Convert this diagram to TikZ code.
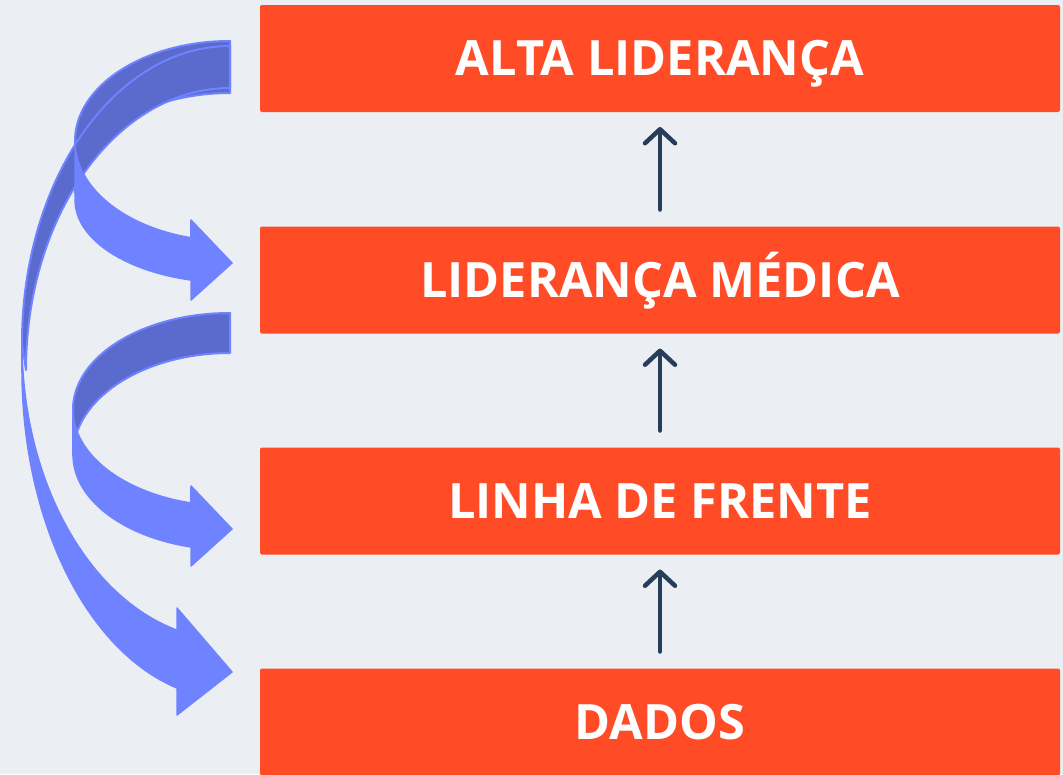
\documentclass[tikz,border=0pt]{standalone}
\usepackage{fontspec}
\setmainfont{Open Sans}
\usepackage{tikz}
\definecolor{bg}{RGB}{235, 239, 243}
\definecolor{cc}{RGB}{255, 75, 38}
\definecolor{ln}{RGB}{38, 61, 92}
\definecolor{bl}{RGB}{111, 130, 255}
\definecolor{bd}{RGB}{90, 107, 205}
\usetikzlibrary{arrows.meta}

\begin{document}
\begin{tikzpicture}[
box/.style={rectangle, minimum width=800pt, minimum height=107pt, fill=cc, rounded corners=2pt, outer sep=0pt, text=white, text height=34.8pt, text depth=0pt, font=\fontsize{48.7}{52}\selectfont\bfseries},
up/.style={line width=4.5pt, color=ln, line cap=round, -{Straight Barb[length=14pt, width=30pt, round]}, shorten <=17pt, shorten >=15pt},
back/.style={fill=bd, draw=bl, line width=2pt, line join=round},
front/.style={fill=bl, draw=bl, line width=1.5pt, line join=round}]
\useasboundingbox (0pt, 0pt) rectangle (1063pt, -774pt);
\fill [bg] (0pt, 0pt) rectangle (1063pt, -774pt);
% curved arrows
\path [back] (230pt, -41pt) arc [start angle=90, end angle=180, x radius=155pt, y radius=100pt] -- (75pt, -193pt) arc [start angle=180, end angle=90, x radius=155pt, y radius=100pt] -- cycle;
\path [back] (230pt, -46pt) arc [start angle=90, end angle=180, x radius=208pt, y radius=297pt] -- (26pt, -370pt) arc [start angle=180, end angle=90, x radius=204pt, y radius=282pt] -- cycle;
\path [front] (22pt, -343pt) arc [start angle=180, end angle=255.24, x radius=208pt, y radius=297pt] -- (177pt, -608pt) -- (232pt, -672pt) -- (177pt, -715pt) -- (177pt, -688pt) arc [start angle=255.24, end angle=180, x radius=208pt, y radius=329pt] -- cycle;
\path [front] (75pt, -141pt) arc [start angle=180, end angle=255.4, x radius=155pt, y radius=100pt] -- (191pt, -220pt) -- (232pt, -263pt) -- (191pt, -300pt) -- (191pt, -280pt) arc [start angle=255.4, end angle=180, x radius=155pt, y radius=82.6pt] -- cycle;
\path [back] (230pt, -313pt) arc [start angle=90, end angle=180, x radius=157pt, y radius=96.5pt] -- (73pt, -455pt) arc [start angle=180, end angle=90, x radius=157pt, y radius=102pt] -- cycle;
\path [front] (73pt, -409.5pt) arc [start angle=180, end angle=255.6, x radius=157pt, y radius=96.5pt] -- (191pt, -486pt) -- (232pt, -529pt) -- (191pt, -566pt) -- (191pt, -547pt) arc [start angle=255.6, end angle=180, x radius=157pt, y radius=95pt] -- cycle;
% boxes
\node (1) [box] at (660pt, -58.5pt) {ALTA LIDERANÇA};
\node (2) [box] at (660pt, -280pt) {LIDERANÇA MÉDICA};
\node (3) [box] at (660pt, -501pt) {LINHA DE FRENTE};
\node (4) [box] at (660pt, -722pt) {DADOS};
\draw [up] (2) to (1);
\draw [up] (3) to (2);
\draw [up] (4) to (3);
\end{tikzpicture}
\end{document}
